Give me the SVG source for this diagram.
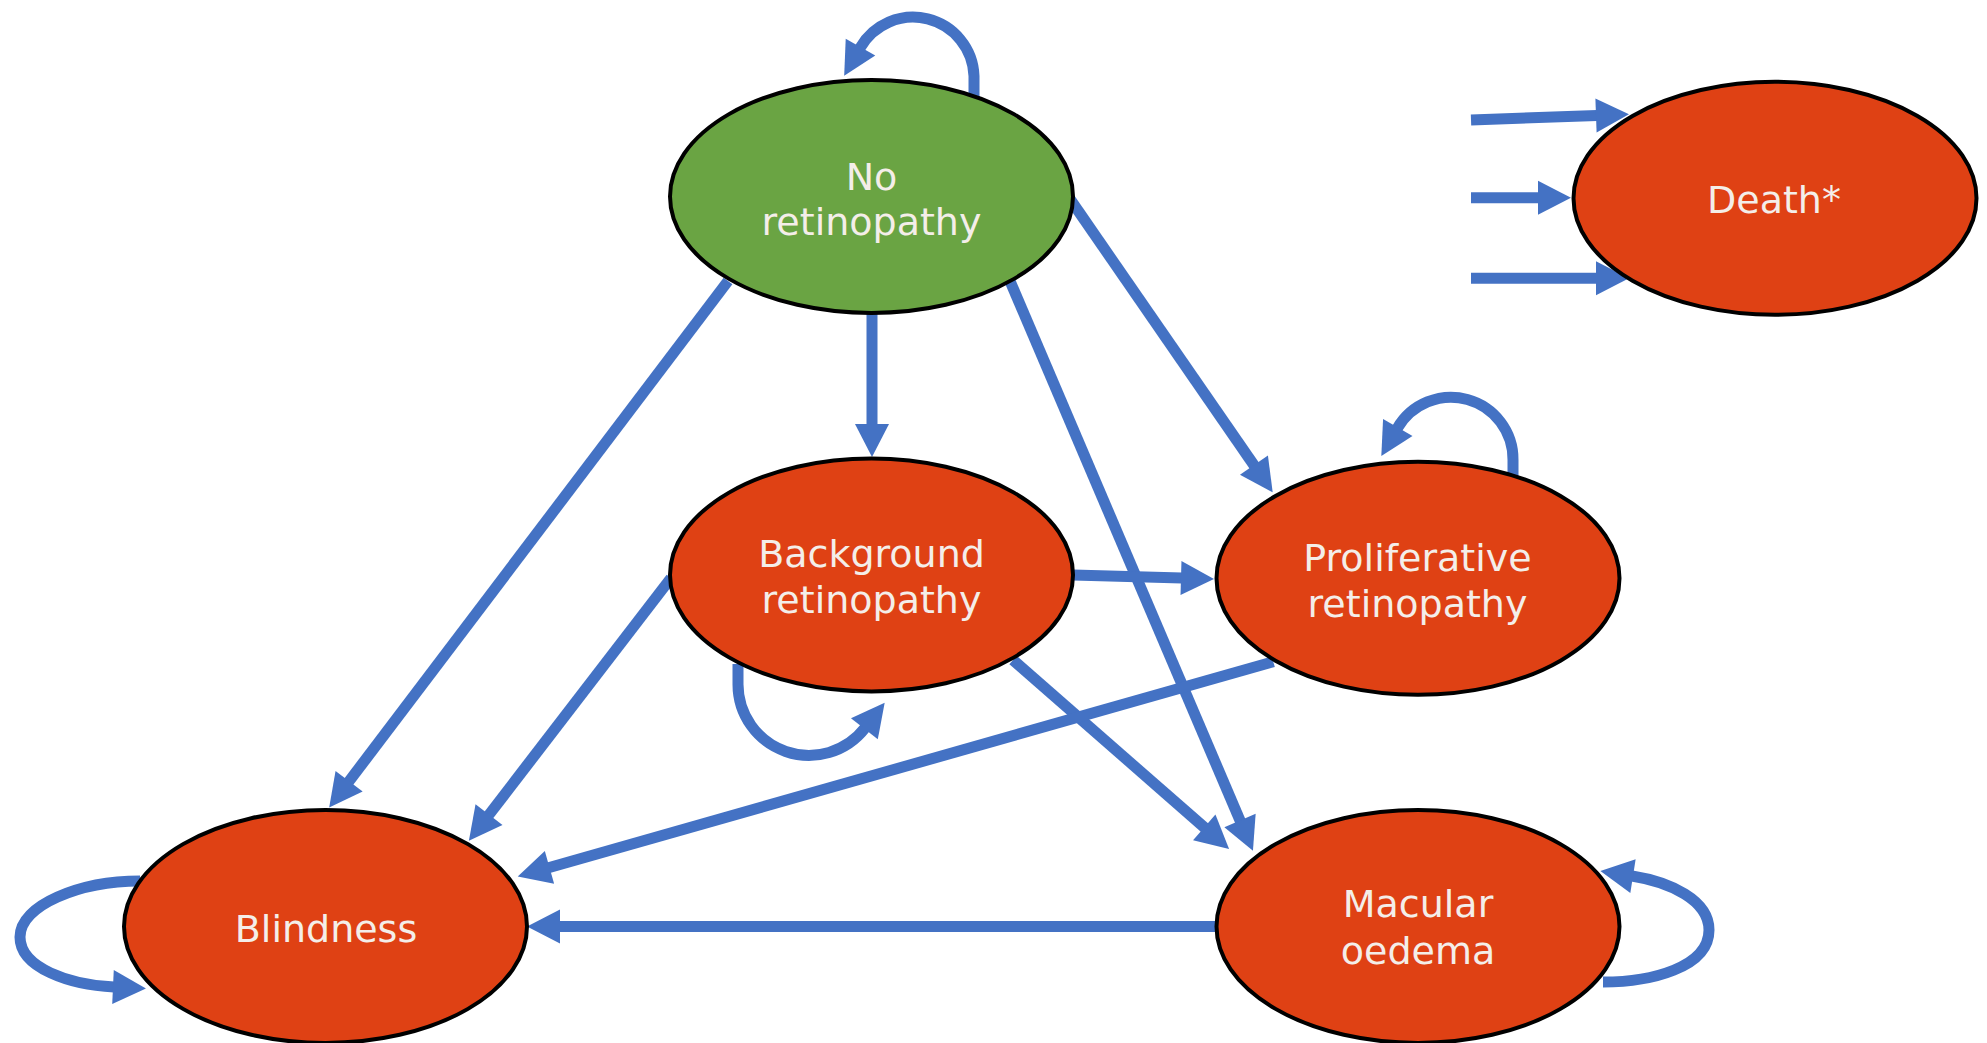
<svg xmlns="http://www.w3.org/2000/svg" width="1987" height="1043" viewBox="0 0 1987 1043">
  <defs>
    <style>
      .node { stroke: #000000; stroke-width: 4; }
      .green { fill: #6aa443; }
      .red { fill: #df4114; }
      .label { font-family: "DejaVu Sans", Verdana, sans-serif; font-size: 38px; fill: #f4eee9; text-anchor: middle; }
      .edge { fill: none; stroke: #4472c4; stroke-width: 11; marker-end: url(#arrow); }
    </style>
    <marker id="arrow" markerUnits="userSpaceOnUse" markerWidth="36" markerHeight="36" refX="1" refY="17" orient="auto" overflow="visible">
      <path d="M0,0 L33,17 L0,34 Z" fill="#4472c4"/>
    </marker>
  </defs>
  <rect width="1987" height="1043" fill="#ffffff"/>

  <g id="connectors">
    <!-- self loops -->
    <path class="edge" d="M 974 100 L 974 76 A 61 61 0 0 0 860 48"/>
    <path class="edge" d="M 1513 482 L 1513 460 A 62 62 0 0 0 1397.3 428.3"/>
    <path class="edge" d="M 738 664 L 738 684 A 71 71 0 0 0 865 728"/>
    <path class="edge" d="M 1603 982 C 1650 982 1709 968 1709 930 C 1709 900 1670 882 1632 876"/>
    <path class="edge" d="M 140 881 C 80 881 20 905 20 937 C 20 968 70 985 114 987"/>
    <!-- to death -->
    <path class="edge" d="M 1471 120 L 1597 115.5"/>
    <path class="edge" d="M 1471 197.7 L 1539 197.7"/>
    <path class="edge" d="M 1471 278.3 L 1597 278.3"/>
    <!-- from no retinopathy -->
    <path class="edge" d="M 872 313 L 872 425"/>
    <path class="edge" d="M 728 281 L 348.5 782"/>
    <path class="edge" d="M 1070 199 L 1254.5 466"/>
    <path class="edge" d="M 1010 281 L 1240.4 821.4"/>
    <!-- from background -->
    <path class="edge" d="M 1073 575 L 1182 578"/>
    <path class="edge" d="M 671 578 L 488.4 815.5"/>
    <path class="edge" d="M 1013 660 L 1205 828"/>
    <!-- from proliferative -->
    <path class="edge" d="M 1273.3 661.7 L 548.5 867.7"/>
    <!-- from macular -->
    <path class="edge" d="M 1216 926.5 L 559 926.5"/>
  </g>

  <g id="node-no-retinopathy">
    <ellipse class="node green" cx="871.5" cy="196.5" rx="201.5" ry="116.5"/>
    <text class="label" x="871.5" y="190">No</text>
    <text class="label" x="871.5" y="235">retinopathy</text>
  </g>
  <g id="node-death">
    <ellipse class="node red" cx="1775" cy="198.3" rx="201.5" ry="116.5"/>
    <text class="label" x="1774" y="212.7">Death*</text>
  </g>
  <g id="node-background">
    <ellipse class="node red" cx="871.5" cy="575" rx="201.5" ry="116.5"/>
    <text class="label" x="871.5" y="567">Background</text>
    <text class="label" x="871.5" y="613">retinopathy</text>
  </g>
  <g id="node-proliferative">
    <ellipse class="node red" cx="1418" cy="578.3" rx="201.5" ry="116.5"/>
    <text class="label" x="1417.5" y="571">Proliferative</text>
    <text class="label" x="1417.5" y="616.7">retinopathy</text>
  </g>
  <g id="node-blindness">
    <ellipse class="node red" cx="325.5" cy="926.5" rx="201.5" ry="116.5"/>
    <text class="label" x="326" y="942.3">Blindness</text>
  </g>
  <g id="node-macular">
    <ellipse class="node red" cx="1418" cy="926.5" rx="201.5" ry="116.5"/>
    <text class="label" x="1418" y="917.3">Macular</text>
    <text class="label" x="1418" y="964">oedema</text>
  </g>
</svg>
